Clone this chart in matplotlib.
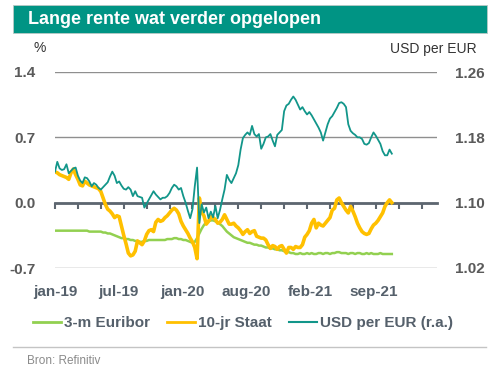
import numpy as np
import pandas as pd
import matplotlib
matplotlib.use("Agg")
import matplotlib.pyplot as plt
from matplotlib.patches import Rectangle
from matplotlib.lines import Line2D

plt.rcParams['font.family'] = ['Liberation Sans', 'DejaVu Sans']

# ---------------- data (weekly observations) ----------------
start_date = "2019-01-02"
n_weeks = 148

euribor_3m = [
    -0.30, -0.30, -0.30, -0.30, -0.30, -0.30, -0.30, -0.30, -0.30, -0.30,
    -0.30, -0.30, -0.30, -0.30, -0.30, -0.31, -0.31, -0.31, -0.31, -0.31,
    -0.31, -0.32, -0.32, -0.33, -0.33, -0.34, -0.35, -0.36, -0.37, -0.38,
    -0.38, -0.39, -0.39, -0.40, -0.40, -0.41, -0.41, -0.42, -0.42, -0.41,
    -0.41, -0.40, -0.40, -0.40, -0.40, -0.40, -0.40, -0.40, -0.40, -0.39,
    -0.39, -0.39, -0.38, -0.38, -0.39, -0.39, -0.40, -0.40, -0.41, -0.42,
    -0.43, -0.42, -0.38, -0.33, -0.28, -0.24, -0.21, -0.20, -0.19, -0.19,
    -0.20, -0.21, -0.23, -0.25, -0.28, -0.31, -0.33, -0.35, -0.37, -0.38,
    -0.39, -0.40, -0.41, -0.42, -0.43, -0.43, -0.44, -0.45, -0.45, -0.46,
    -0.46, -0.47, -0.48, -0.48, -0.49, -0.49, -0.50, -0.50, -0.51, -0.51,
    -0.52, -0.53, -0.53, -0.54, -0.54, -0.55, -0.55, -0.54, -0.55, -0.55,
    -0.54, -0.55, -0.54, -0.55, -0.55, -0.54, -0.54, -0.55, -0.54, -0.54,
    -0.55, -0.54, -0.54, -0.53, -0.53, -0.54, -0.54, -0.54, -0.55, -0.54,
    -0.54, -0.55, -0.54, -0.54, -0.55, -0.55, -0.54, -0.55, -0.54, -0.55,
    -0.55, -0.55, -0.54, -0.55, -0.55, -0.55, -0.55, -0.55,
]

staat_10jr = [
    0.33, 0.32, 0.30, 0.29, 0.28, 0.27, 0.25, 0.32, 0.36, 0.30,
    0.25, 0.19, 0.18, 0.23, 0.21, 0.19, 0.18, 0.17, 0.16, 0.15,
    0.12, 0.05, -0.02, -0.07, -0.09, -0.12, -0.16, -0.14, -0.15, -0.25,
    -0.35, -0.44, -0.54, -0.57, -0.56, -0.52, -0.41, -0.43, -0.45, -0.41,
    -0.34, -0.30, -0.29, -0.31, -0.21, -0.18, -0.20, -0.19, -0.16, -0.14,
    -0.11, -0.08, -0.06, -0.08, -0.12, -0.20, -0.25, -0.29, -0.33, -0.38,
    -0.42, -0.48, -0.60, 0.05, -0.10, -0.14, -0.23, -0.20, -0.15, -0.16,
    -0.18, -0.22, -0.21, -0.18, -0.13, -0.18, -0.23, -0.23, -0.22, -0.25,
    -0.27, -0.30, -0.34, -0.31, -0.29, -0.33, -0.31, -0.30, -0.36, -0.37,
    -0.38, -0.38, -0.40, -0.45, -0.49, -0.46, -0.47, -0.50, -0.47, -0.46,
    -0.50, -0.54, -0.48, -0.48, -0.50, -0.47, -0.48, -0.48, -0.45, -0.37,
    -0.34, -0.30, -0.22, -0.18, -0.27, -0.22, -0.24, -0.25, -0.22, -0.19,
    -0.16, -0.08, -0.06, 0.03, 0.05, 0.00, -0.04, -0.08, -0.11, -0.04,
    -0.09, -0.15, -0.22, -0.27, -0.31, -0.33, -0.34, -0.33, -0.28, -0.24,
    -0.22, -0.19, -0.15, -0.11, -0.04, 0.00, 0.03, 0.00,
]

usd_per_eur = [
    1.138, 1.150, 1.142, 1.140, 1.141, 1.147, 1.136, 1.139, 1.142, 1.143,
    1.133, 1.127, 1.124, 1.131, 1.130, 1.126, 1.120, 1.124, 1.122, 1.118,
    1.116, 1.119, 1.122, 1.125, 1.132, 1.138, 1.133, 1.124, 1.126, 1.121,
    1.117, 1.116, 1.119, 1.116, 1.108, 1.114, 1.108, 1.107, 1.106, 1.094,
    1.099, 1.104, 1.109, 1.114, 1.110, 1.107, 1.104, 1.106, 1.106, 1.108,
    1.112, 1.118, 1.122, 1.120, 1.116, 1.118, 1.108, 1.100, 1.090, 1.081,
    1.092, 1.120, 1.143, 1.075, 1.098, 1.088, 1.094, 1.081, 1.089, 1.082,
    1.096, 1.081, 1.091, 1.104, 1.116, 1.134, 1.128, 1.124, 1.130, 1.136,
    1.146, 1.165, 1.179, 1.183, 1.186, 1.183, 1.194, 1.184, 1.181, 1.184,
    1.166, 1.172, 1.180, 1.181, 1.184, 1.176, 1.169, 1.183, 1.186, 1.189,
    1.212, 1.219, 1.221, 1.226, 1.230, 1.226, 1.220, 1.214, 1.217, 1.212,
    1.208, 1.211, 1.207, 1.202, 1.197, 1.192, 1.186, 1.176, 1.186, 1.196,
    1.203, 1.206, 1.211, 1.216, 1.222, 1.223, 1.221, 1.217, 1.196, 1.188,
    1.185, 1.183, 1.180, 1.180, 1.178, 1.172, 1.171, 1.173, 1.180, 1.186,
    1.182, 1.177, 1.172, 1.163, 1.158, 1.158, 1.165, 1.160,
]

x_tick_labels = ["jan-19", "jul-19", "jan-20", "aug-20", "feb-21", "sep-21"]
left_ticks = [-0.7, 0.0, 0.7, 1.4]
right_ticks = [1.02, 1.10, 1.18, 1.26]

dates = pd.date_range(start_date, periods=n_weeks, freq="7D")
t0 = pd.Timestamp(start_date)
days = np.asarray((dates - t0).days, dtype=float)

# ---------------- style ----------------
C_GREEN = "#92D050"
C_ORANGE = "#FFC000"
C_TEAL = "#12968A"
C_BANNER = "#009484"
C_TEXT = "#55606B"

W, H = 497, 374
fig = plt.figure(figsize=(W / 100, H / 100), dpi=100)

def fx(px):
    return px / W

def fy(py):
    return 1 - py / H

# banner
fig.patches.append(Rectangle((fx(13), fy(33)), fx(474), 28 / H, transform=fig.transFigure,
                             facecolor=C_BANNER, edgecolor="#b9c9c6", lw=0.6, zorder=0))
fig.text(fx(28), fy(19.5), "Lange rente wat verder opgelopen", color="white",
         fontsize=13, fontweight="bold", va="center", ha="left")

fig.text(fx(33), fy(48.5), "%", fontsize=10, color="#333333", va="center", ha="left")
fig.text(fx(477), fy(48.5), "USD per EUR", fontsize=10, color="#333333", va="center", ha="right")

ax = fig.add_axes([fx(55), fy(268), fx(437 - 55), (268 - 72) / H])
ax2 = ax.twinx()

ax.plot(days, euribor_3m, color=C_GREEN, lw=1.8, zorder=3, solid_joinstyle="round")
ax.plot(days, staat_10jr, color=C_ORANGE, lw=2.6, zorder=4, solid_joinstyle="round")
ax2.plot(days, usd_per_eur, color=C_TEAL, lw=1.3, zorder=5, solid_joinstyle="round")

ax.set_xlim(0, 1167)
ax.set_ylim(-0.7, 1.4)
ax2.set_ylim(1.02, 1.26)

ax.set_yticks(left_ticks)
ax.set_yticklabels([f"{v:.1f}" for v in left_ticks])
ax2.set_yticks(right_ticks)
ax2.set_yticklabels([f"{v:.2f}" for v in right_ticks])

for a in (ax, ax2):
    for s in ("left", "right", "top"):
        a.spines[s].set_visible(False)
ax2.spines["bottom"].set_visible(False)

ax.yaxis.grid(True, color="#8f8f8f", lw=1.0)
ax.set_axisbelow(True)
ax.tick_params(axis="y", length=0, pad=14, labelsize=11, labelcolor="#5a5a5a")
for lab in ax.get_yticklabels():
    lab.set_fontweight("bold")
ax2.tick_params(axis="y", length=0, pad=13, labelsize=11, labelcolor="#5a5a5a")
for lab in ax2.get_yticklabels():
    lab.set_fontweight("bold")

# axis line at zero with small tick marks
ax.spines["bottom"].set_position(("data", 0.0))
ax.spines["bottom"].set_color("#5d6670")
ax.spines["bottom"].set_linewidth(2.0)
ax.spines["bottom"].set_zorder(2)
ax.set_xticks(np.arange(0, 1121, 70))
ax.tick_params(axis="x", length=4, width=1.5, color="#5d6670", direction="out", labelbottom=False)

# date labels below the plot
label_days = np.arange(len(x_tick_labels)) * 195
sec = ax.secondary_xaxis("bottom")
sec.set_xticks(label_days)
sec.set_xticklabels(x_tick_labels)
sec.spines["bottom"].set_visible(False)
sec.tick_params(axis="x", length=0, pad=12, labelsize=11, labelcolor=C_TEXT)
for lab in sec.get_xticklabels():
    lab.set_fontweight("bold")

# legend
handles = [Line2D([], [], color=C_GREEN, lw=2),
           Line2D([], [], color=C_ORANGE, lw=2),
           Line2D([], [], color=C_TEAL, lw=1.5)]
labels = ["3-m Euribor", "10-jr Staat", "USD per EUR (r.a.)"]
leg = fig.legend(handles, labels, loc="center", bbox_to_anchor=(fx(243), fy(323)), ncol=3,
                 frameon=False, handlelength=1.85, handletextpad=0.2, columnspacing=1.1,
                 prop={"size": 11, "weight": "bold"})
for t in leg.get_texts():
    t.set_color(C_TEXT)

# footer
fig.add_artist(Line2D([fx(13), fx(486)], [fy(347), fy(347)], color="#c4c4c4", lw=1.0,
                      transform=fig.transFigure))
fig.text(fx(27), fy(361), "Bron: Refinitiv", fontsize=8.5, color="#8a8a8a", va="center", ha="left")

fig.savefig("out.png", dpi=100)
